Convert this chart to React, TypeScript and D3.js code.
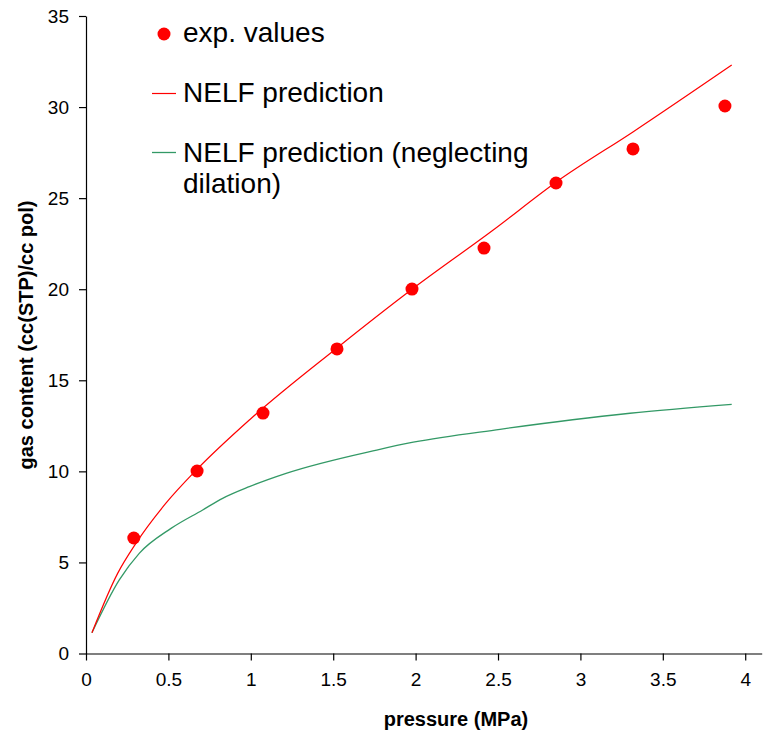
import React, { useRef, useEffect } from 'react';
import * as d3 from 'd3';

// experimental sorption data (pressure in MPa, gas content cc(STP)/cc pol)
const expPressure = [0.29, 0.674, 1.074, 1.523, 1.978, 2.415, 2.852, 3.319, 3.877];
const expContent = [6.34, 10.02, 13.2, 16.72, 20.01, 22.26, 25.83, 27.7, 30.06];

// NELF prediction
const nelfPressure = [0.036, 0.192, 0.303, 0.485, 0.667, 0.995, 1.521, 1.986, 2.471, 2.856, 3.321, 3.918];
const nelfContent = [1.14, 4.4, 6.05, 8.25, 10.05, 12.85, 16.76, 20.05, 23.25, 25.9, 28.65, 32.31];

// NELF prediction neglecting dilation
const nelfNdPressure = [0.036, 0.202, 0.323, 0.516, 0.708, 0.829, 0.991, 1.214, 1.764, 1.986, 2.512, 3.301, 3.918];
const nelfNdContent = [1.14, 4.04, 5.5, 6.87, 7.88, 8.52, 9.16, 9.89, 11.17, 11.6, 12.31, 13.19, 13.68];

const xTicks = [0, 0.5, 1, 1.5, 2, 2.5, 3, 3.5, 4];
const yTicks = [0, 5, 10, 15, 20, 25, 30, 35];

const legendLabels = ['exp. values', 'NELF prediction', 'NELF prediction (neglecting', 'dilation)'];

const WIDTH = 765;
const HEIGHT = 733;
const FONT = "'Liberation Sans', Arial, sans-serif";

const App = () => {
  const svgRef = useRef<SVGSVGElement>(null);

  useEffect(() => {
    const svg = d3.select(svgRef.current);
    svg.selectAll('*').remove();

    const x = d3.scaleLinear().domain([0, 4.1]).range([86, 761.7]);
    const y = d3.scaleLinear().domain([0, 35]).range([653.5, 16]);

    svg.append('rect').attr('width', WIDTH).attr('height', HEIGHT).attr('fill', 'white');

    // axes
    const xAxis = svg.append('g')
      .attr('transform', `translate(0, ${y(0)})`)
      .call(d3.axisBottom(x).tickValues(xTicks).tickSize(7).tickSizeOuter(0).tickPadding(12)
        .tickFormat(d => String(d)));
    const yAxis = svg.append('g')
      .attr('transform', `translate(${x(0)}, 0)`)
      .call(d3.axisLeft(y).tickValues(yTicks).tickSize(7).tickSizeOuter(0).tickPadding(10)
        .tickFormat(d => String(d)));

    [xAxis, yAxis].forEach(a => {
      a.select('.domain').attr('stroke', '#000').attr('stroke-width', 1.2);
      a.selectAll('.tick line').attr('stroke', '#000').attr('stroke-width', 1.2);
      a.selectAll('.tick text')
        .attr('fill', '#000')
        .style('font-family', FONT)
        .style('font-size', '19px');
    });

    // axis titles
    svg.append('text')
      .attr('x', 456)
      .attr('y', 726)
      .attr('text-anchor', 'middle')
      .style('font-family', FONT)
      .style('font-size', '20px')
      .style('font-weight', 'bold')
      .text('pressure (MPa)');

    svg.append('text')
      .attr('transform', `translate(33, 335) rotate(-90)`)
      .attr('text-anchor', 'middle')
      .style('font-family', FONT)
      .style('font-size', '20px')
      .style('font-weight', 'bold')
      .text('gas content (cc(STP)/cc pol)');

    // curves
    const line = d3.line<[number, number]>()
      .x(d => x(d[0]))
      .y(d => y(d[1]))
      .curve(d3.curveMonotoneX);

    svg.append('path')
      .datum(d3.zip(nelfNdPressure, nelfNdContent) as [number, number][])
      .attr('d', line)
      .attr('fill', 'none')
      .attr('stroke', '#339966')
      .attr('stroke-width', 1.3);

    svg.append('path')
      .datum(d3.zip(nelfPressure, nelfContent) as [number, number][])
      .attr('d', line)
      .attr('fill', 'none')
      .attr('stroke', '#ff0000')
      .attr('stroke-width', 1.2);

    // experimental points
    svg.append('g')
      .selectAll('circle')
      .data(d3.zip(expPressure, expContent))
      .enter()
      .append('circle')
      .attr('cx', d => x(d[0]))
      .attr('cy', d => y(d[1]))
      .attr('r', 6.5)
      .attr('fill', '#ff0000');

    // legend
    const legend = svg.append('g');
    legend.append('circle').attr('cx', 164).attr('cy', 34).attr('r', 6.5).attr('fill', '#ff0000');
    legend.append('line').attr('x1', 152).attr('x2', 176).attr('y1', 93.5).attr('y2', 93.5)
      .attr('stroke', '#ff0000').attr('stroke-width', 1.2);
    legend.append('line').attr('x1', 152).attr('x2', 176).attr('y1', 152.5).attr('y2', 152.5)
      .attr('stroke', '#339966').attr('stroke-width', 1.3);

    const baselines = [42, 101.7, 161.7, 193.3];
    legendLabels.forEach((label, i) => {
      legend.append('text')
        .attr('x', 183)
        .attr('y', baselines[i])
        .style('font-family', FONT)
        .style('font-size', '28px')
        .attr('fill', '#000')
        .text(label);
    });
  }, []);

  return (
    <svg
      ref={svgRef}
      width={WIDTH}
      height={HEIGHT}
      style={{ position: 'absolute', left: 0, top: 0, display: 'block' }}
    />
  );
};

export default App;
